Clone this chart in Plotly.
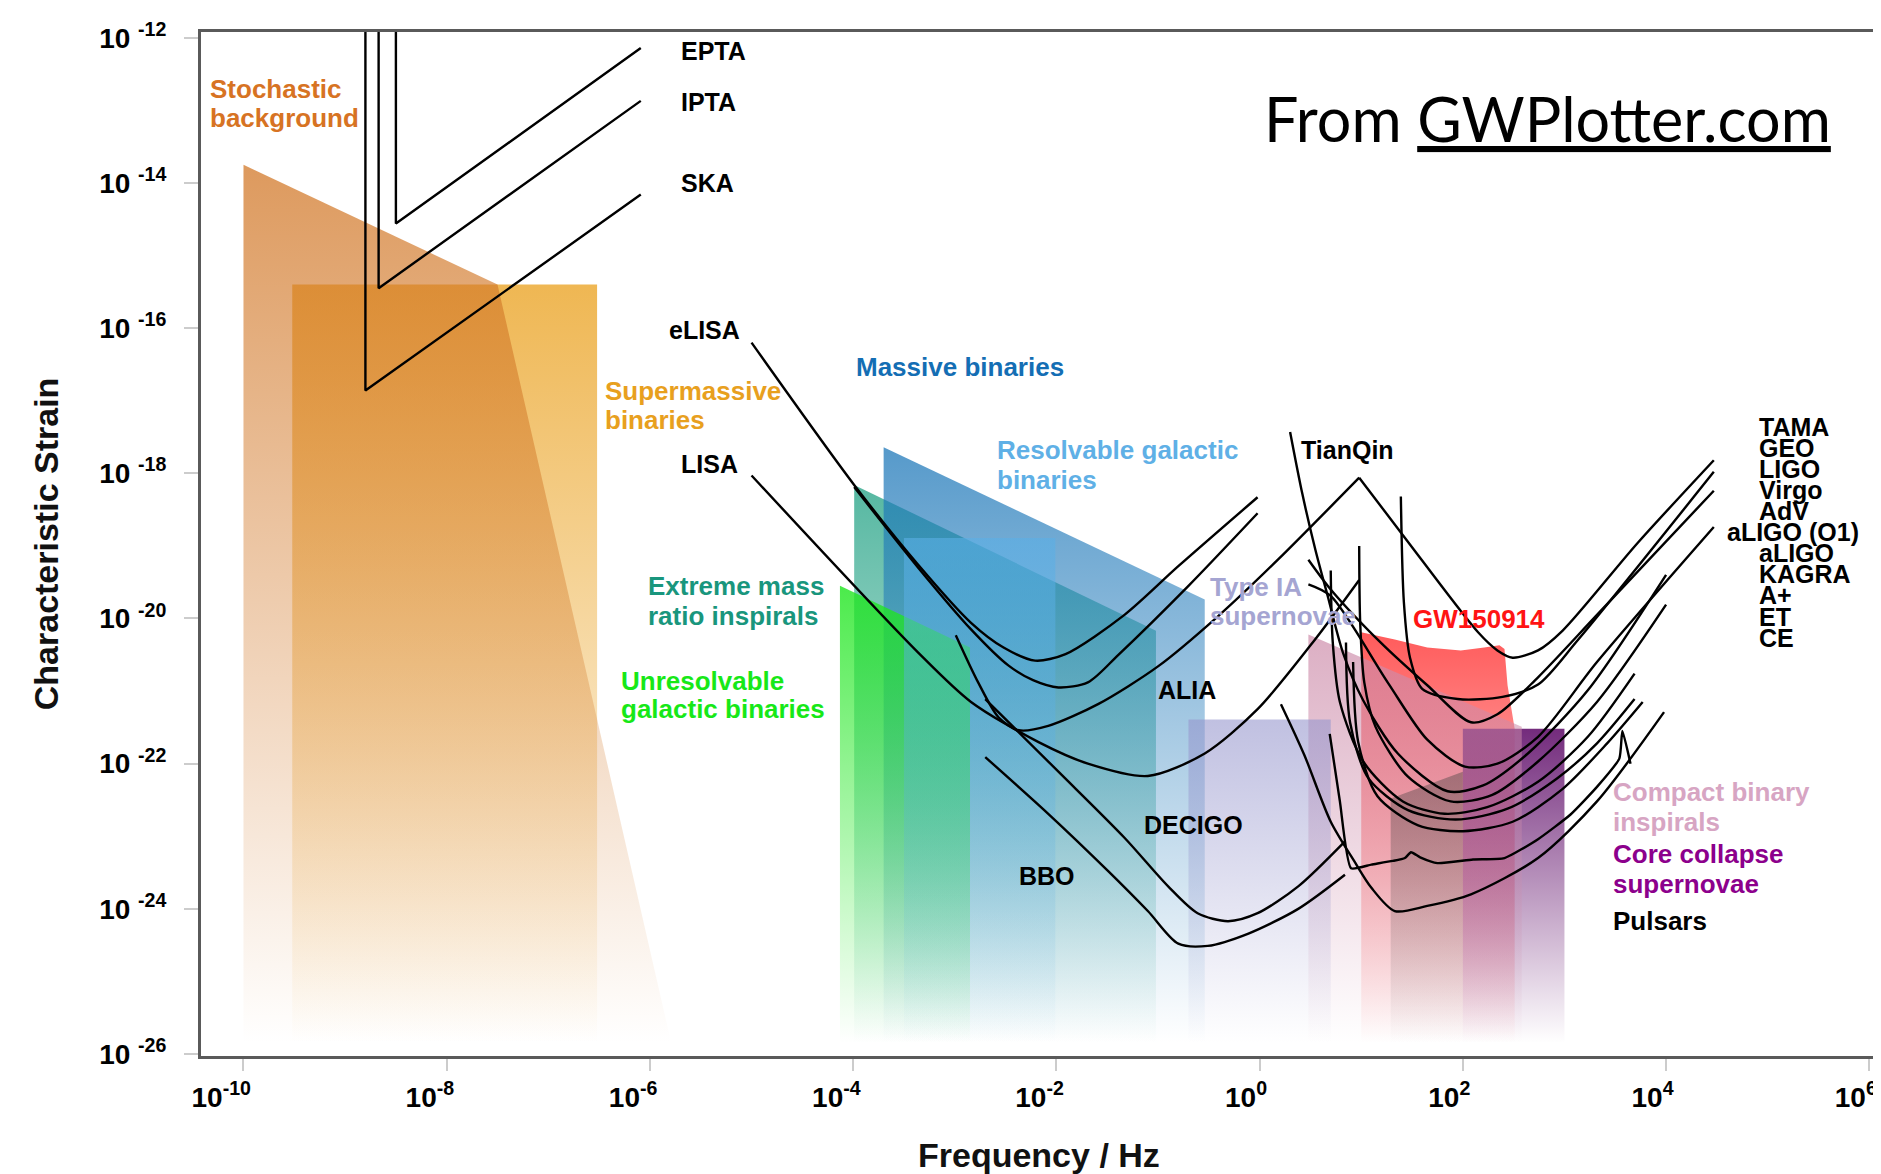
import numpy as np
import plotly.graph_objects as go

FONT = "Liberation Sans, Arial, Helvetica, sans-serif"

# ---------------- tick labels ----------------
x_tick_exponents = [-10, -8, -6, -4, -2, 0, 2, 4, 6]
y_tick_exponents = [-12, -14, -16, -18, -20, -22, -24, -26]

# ---------------- source regions: log10(f / Hz), log10(h_c) ----------------
supermassive_logf = [-9.52, -6.52, -6.52, -9.52]
supermassive_logh = [-15.40, -15.40, -25.85, -25.85]
stochastic_logf = [-10.0, -7.50, -5.79, -10.0]
stochastic_logh = [-13.75, -15.40, -25.85, -25.85]
emri_logf = [-3.99, -1.02, -1.02, -3.99]
emri_logh = [-18.16, -20.17, -25.85, -25.85]
massive_logf = [-3.70, -0.54, -0.54, -3.70]
massive_logh = [-17.64, -19.74, -25.85, -25.85]
unresolvable_logf = [-4.13, -2.85, -2.85, -4.13]
unresolvable_logh = [-19.55, -20.40, -25.85, -25.85]
resolvable_logf = [-3.50, -2.01, -2.01, -3.50]
resolvable_logh = [-18.89, -18.89, -25.85, -25.85]
gw150914_logf = [1.00, 1.33, 1.65, 1.98, 2.21, 2.36, 2.41, 2.44, 2.51, 2.51, 1.00]
gw150914_logh = [-20.19, -20.29, -20.40, -20.44, -20.40, -20.37, -20.42, -20.92, -21.52, -25.85, -25.85]
corecollapse_logf = [2.00, 3.00, 3.00, 2.00]
corecollapse_logh = [-21.52, -21.52, -25.85, -25.85]
compact_logf = [0.48, 2.58, 2.58, 0.48]
compact_logh = [-20.22, -21.49, -25.85, -25.85]
pulsars_logf = [1.29, 2.00, 2.00, 1.29]
pulsars_logh = [-22.48, -22.11, -25.85, -25.85]
typeia_logf = [-0.70, 0.70, 0.70, -0.70]
typeia_logh = [-21.39, -21.39, -25.85, -25.85]

# ---------------- detector sensitivity curves ----------------
epta_logf = [-8.50, -8.50, -6.09]
epta_logh = [-11.50, -14.56, -12.14]
ipta_logf = [-8.67, -8.67, -6.09]
ipta_logh = [-11.50, -15.45, -12.87]
ska_logf = [-8.80, -8.80, -6.09]
ska_logh = [-11.50, -16.86, -14.16]

elisa_logf = [-5.00, -3.99, -3.36, -2.84, -2.52, -2.21, -1.91, -1.33, -0.80, -0.02]
elisa_logh = [-16.20, -18.16, -19.26, -20.06, -20.40, -20.58, -20.49, -19.95, -19.28, -18.33]
lisa2_logf = [-3.99, -3.36, -2.84, -2.47, -2.23, -1.98, -1.69, -1.39, -0.70, -0.02]
lisa2_logh = [-18.19, -19.30, -20.15, -20.65, -20.85, -20.95, -20.88, -20.50, -19.55, -18.55]
lisa_logf = [-5.00, -3.36, -2.84, -2.18, -1.69, -1.10, -0.54, -0.02, 0.54, 0.98]
lisa_logh = [-18.03, -20.47, -21.15, -21.70, -22.00, -22.17, -21.86, -21.25, -20.30, -19.47]
tianqin_logf = [-2.99, -2.77, -2.57, -2.37, -2.08, -1.59, -1.00, -0.41, 0.18, 0.98]
tianqin_logh = [-20.23, -20.88, -21.36, -21.54, -21.48, -21.18, -20.66, -19.97, -19.19, -18.06]
decigo_logf = [-2.70, -1.98, -1.33, -0.90, -0.61, -0.31, -0.02, 0.38, 0.84]
decigo_logh = [-21.11, -22.11, -23.02, -23.69, -24.06, -24.17, -24.06, -23.69, -23.07]
bbo_logf = [-2.70, -2.08, -1.49, -1.10, -0.80, -0.51, -0.11, 0.38, 0.84]
bbo_logh = [-21.91, -22.69, -23.48, -24.03, -24.48, -24.51, -24.34, -24.00, -23.53]

tama_logf = [0.98, 1.56, 2.15, 2.34, 2.49, 2.74, 2.98, 3.72, 4.47]
tama_logh = [-18.06, -19.13, -20.19, -20.44, -20.54, -20.44, -20.17, -18.96, -17.82]
geo_logf = [1.39, 1.42, 1.48, 1.60, 1.95, 2.39, 2.74, 3.13, 4.47]
geo_logh = [-18.32, -19.78, -20.54, -20.97, -21.11, -21.08, -20.91, -20.30, -17.98]
ligo_logf = [0.48, 0.70, 1.19, 1.65, 2.08, 2.34, 2.74, 3.32, 4.47]
ligo_logh = [-19.19, -19.60, -20.33, -20.92, -21.43, -21.32, -20.81, -19.95, -18.24]
virgo_logf = [0.48, 0.70, 1.26, 1.65, 2.02, 2.34, 2.74, 3.32, 4.47]
virgo_logh = [-19.53, -19.69, -20.88, -21.67, -22.04, -22.00, -21.63, -20.60, -18.74]
aligo_o1_logf = [0.30, 0.42, 0.55, 0.67, 0.82, 1.02, 1.36, 1.85, 2.20, 2.64, 3.23, 4.00]
aligo_o1_logh = [-17.43, -18.28, -19.06, -19.69, -20.47, -21.13, -21.86, -22.38, -22.30, -21.86, -20.99, -19.40]
adv_logf = [0.98, 0.99, 1.03, 1.14, 1.46, 1.88, 2.29, 2.74, 3.32, 4.00]
adv_logh = [-19.00, -20.06, -20.88, -21.49, -22.18, -22.52, -22.43, -21.97, -21.15, -19.81]
aligo_logf = [0.70, 0.72, 0.79, 1.02, 1.41, 1.82, 2.24, 2.74, 3.23, 3.69]
aligo_logh = [-19.34, -20.33, -21.15, -21.97, -22.52, -22.69, -22.60, -22.25, -21.63, -20.76]
kagra_logf = [0.85, 0.89, 1.07, 1.46, 1.93, 2.44, 2.93, 3.32, 3.69]
kagra_logh = [-20.33, -21.43, -22.20, -22.64, -22.77, -22.62, -22.20, -21.72, -21.11]
aplus_logf = [0.92, 0.97, 1.16, 1.56, 2.00, 2.49, 2.98, 3.42, 3.77]
aplus_logh = [-20.60, -21.70, -22.45, -22.85, -22.93, -22.80, -22.35, -21.72, -21.15]
et_logf = [0.21, 0.44, 0.70, 0.93, 1.10, 1.33, 1.65, 2.08, 2.74, 3.32, 3.98]
et_logh = [-21.18, -21.88, -22.80, -23.34, -23.71, -24.03, -23.96, -23.80, -23.30, -22.52, -21.29]
ce_logf = [0.69, 0.79, 0.90, 1.10, 1.31, 1.43, 1.49, 1.58, 1.75, 2.10, 2.41, 2.74, 3.06, 3.32, 3.54, 3.57, 3.65]
ce_logh = [-21.59, -22.52, -23.44, -23.39, -23.34, -23.30, -23.22, -23.29, -23.37, -23.32, -23.30, -23.04, -22.70, -22.32, -21.93, -21.55, -22.00]

fig = go.Figure()


def region(logf, logh, rgb, alpha):
    r, g, b = rgb
    fig.add_trace(go.Scatter(
        x=np.power(10.0, logf), y=np.power(10.0, logh),
        mode="none", fill="toself",
        fillgradient=dict(type="vertical",
                          colorscale=[[0, f"rgba({r},{g},{b},0)"],
                                      [1, f"rgba({r},{g},{b},{alpha})"]]),
        hoverinfo="skip", showlegend=False))


def curve(logf, logh, shape="spline", smoothing=0.8):
    fig.add_trace(go.Scatter(
        x=np.power(10.0, logf), y=np.power(10.0, logh), mode="lines",
        line=dict(color="black", width=2.4, shape=shape, smoothing=smoothing),
        hoverinfo="skip", showlegend=False))


region(supermassive_logf, supermassive_logh, (235, 165, 40), 0.8)
region(stochastic_logf, stochastic_logh, (210, 120, 40), 0.75)
region(emri_logf, emri_logh, (30, 160, 130), 0.75)
region(massive_logf, massive_logh, (30, 120, 185), 0.75)
region(unresolvable_logf, unresolvable_logh, (30, 230, 30), 0.8)
region(resolvable_logf, resolvable_logh, (90, 175, 230), 0.6)
region(gw150914_logf, gw150914_logh, (255, 50, 50), 0.8)
region(corecollapse_logf, corecollapse_logh, (100, 20, 110), 0.9)
region(compact_logf, compact_logh, (205, 140, 170), 0.7)
region(pulsars_logf, pulsars_logh, (60, 60, 60), 0.4)
region(typeia_logf, typeia_logh, (150, 150, 205), 0.6)

for lf, lh in [(epta_logf, epta_logh), (ipta_logf, ipta_logh), (ska_logf, ska_logh)]:
    curve(lf, lh, shape="linear")

for lf, lh in [(elisa_logf, elisa_logh), (lisa2_logf, lisa2_logh), (lisa_logf, lisa_logh),
               (tianqin_logf, tianqin_logh), (decigo_logf, decigo_logh), (bbo_logf, bbo_logh),
               (tama_logf, tama_logh), (geo_logf, geo_logh), (ligo_logf, ligo_logh),
               (virgo_logf, virgo_logh), (aligo_o1_logf, aligo_o1_logh), (adv_logf, adv_logh),
               (aligo_logf, aligo_logh), (kagra_logf, kagra_logh), (aplus_logf, aplus_logh),
               (et_logf, et_logh)]:
    curve(lf, lh)
curve(ce_logf, ce_logh, smoothing=0.5)


def label(text, x, y, color="black", size=26, family=FONT, weight="bold"):
    fig.add_annotation(x=x, y=y, xref="x", yref="y", text=text, showarrow=False,
                       xanchor="left", yanchor="middle",
                       font=dict(family=family, size=size, color=color, weight=weight))


label("EPTA", -5.71, -12.18, size=25)
label("IPTA", -5.71, -12.88, size=25)
label("SKA", -5.71, -14.00, size=25)
label("Stochastic", -10.354, -12.71, "#d77323")
label("background", -10.354, -13.10, "#d77323")
label("Supermassive", -6.46, -16.86, "#e8a01e")
label("binaries", -6.46, -17.27, "#e8a01e")
label("eLISA", -5.83, -16.02, size=25)
label("LISA", -5.71, -17.87, size=25)
label("Massive binaries", -3.99, -16.54, "#146eb4")
label("Resolvable galactic", -2.60, -17.68, "#5fb0e6")
label("binaries", -2.60, -18.09, "#5fb0e6")
label("Extreme mass", -6.04, -19.55, "#19967d")
label("ratio inspirals", -6.04, -19.97, "#19967d")
label("Unresolvable", -6.30, -20.86, "#17e817")
label("galactic binaries", -6.30, -21.24, "#17e817")
label("TianQin", 0.39, -17.68, size=25)
label("ALIA", -1.02, -20.99, size=25)
label("DECIGO", -1.16, -22.85, size=25)
label("BBO", -2.39, -23.55, size=25)
label("Type IA", -0.51, -19.57, "#a5a5d2")
label("supernovae", -0.51, -19.97, "#a5a5d2")
label("GW150914", 1.49, -20.01, "#ff1414")
label("Compact binary", 3.455, -22.39, "#d7a5c3")
label("inspirals", 3.455, -22.80, "#d7a5c3")
label("Core collapse", 3.455, -23.25, "#8c008c")
label("supernovae", 3.455, -23.66, "#8c008c")
label("Pulsars", 3.455, -24.17, size=26)

ground_names = ["TAMA", "GEO", "LIGO", "Virgo", "AdV", "aLIGO (O1)", "aLIGO",
                "KAGRA", "A+", "ET", "CE"]
for i, name in enumerate(ground_names):
    xpos = 4.584 if name == "aLIGO (O1)" else 4.896
    label(name, xpos, -17.363 - 0.29 * i, size=25)

# attribution
fig.add_annotation(x=0.6333, y=0.9156, xref="paper", yref="paper",
                   text="From <u>GWPlotter.com</u>", showarrow=False,
                   xanchor="left", yanchor="middle",
                   font=dict(family="Lato, Open Sans, sans-serif", size=61, color="black"))

# axis titles
fig.add_annotation(x=-0.0924, y=0.5, xref="paper", yref="paper", text="Characteristic Strain",
                   textangle=-90, showarrow=False, xanchor="center", yanchor="middle",
                   font=dict(family=FONT, size=34, color="#111111", weight="bold"))
fig.add_annotation(x=0.5, y=-0.0967, xref="paper", yref="paper", text="Frequency / Hz",
                   showarrow=False, xanchor="center", yanchor="middle",
                   font=dict(family=FONT, size=34, color="#111111", weight="bold"))

# the page body adds an 8 px offset, so the margins compensate for it
fig.update_layout(
    width=1881, height=1174,
    margin=dict(l=193, r=10, t=18, b=126),
    paper_bgcolor="white", plot_bgcolor="white", showlegend=False,
)
fig.update_xaxes(
    type="log", range=[-10.418, 6.066], showgrid=False, zeroline=False,
    showline=True, linecolor="#5a5a5a", linewidth=3, mirror=True,
    ticks="outside", ticklen=12, tickwidth=2, tickcolor="#cccccc",
    tickvals=[10.0 ** e for e in x_tick_exponents],
    ticktext=[f"10<sup>{e}</sup>" for e in x_tick_exponents],
    tickfont=dict(family=FONT, size=28, color="black", weight="bold"),
    ticklabelposition="outside left", ticklabelstandoff=14, ticklabelshift=10,
)
fig.update_yaxes(
    type="log", range=[-26.027, -11.921], showgrid=False, zeroline=False,
    showline=True, linecolor="#5a5a5a", linewidth=3, mirror=True,
    ticks="outside", ticklen=14, tickwidth=2, tickcolor="#cccccc",
    tickvals=[10.0 ** e for e in y_tick_exponents],
    ticktext=[f"10 <sup>{e}</sup>" for e in y_tick_exponents],
    tickfont=dict(family=FONT, size=28, color="black", weight="bold"),
    ticklabelstandoff=12,
)

fig.write_html("out.html")
